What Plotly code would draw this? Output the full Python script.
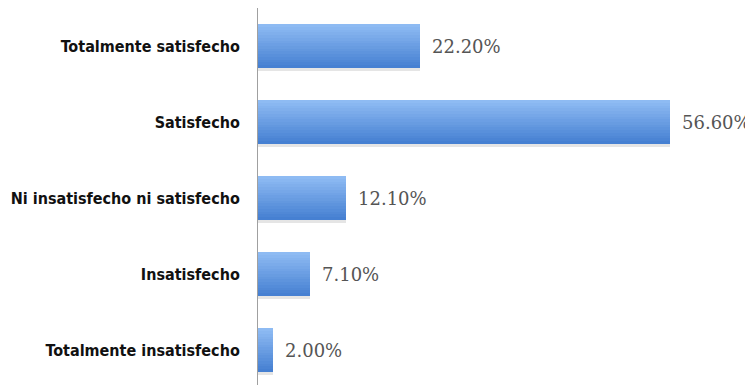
import plotly.graph_objects as go

categories = ["Totalmente satisfecho", "Satisfecho", "Ni insatisfecho ni satisfecho",
              "Insatisfecho", "Totalmente insatisfecho"]
values = [22.2, 56.6, 12.1, 7.1, 2.0]
value_labels = ["22.20%", "56.60%", "12.10%", "7.10%", "2.00%"]

BAR_W = 0.57
top_rgb = (0x8e, 0xbb, 0xf3)
bot_rgb = (0x46, 0x80, 0xd2)
N_BANDS = 16

fig = go.Figure()
# soft shadow
fig.add_trace(go.Bar(
    y=categories, x=values, orientation="h", width=BAR_W,
    offset=-BAR_W / 2 + 0.045,
    marker=dict(color="rgba(0,0,0,0.10)", line=dict(width=0)),
    hoverinfo="skip",
))
fig.add_trace(go.Bar(
    y=categories, x=values, orientation="h", width=BAR_W,
    marker=dict(color="#5b91dc", line=dict(width=0)),
    hoverinfo="skip",
))
bw = BAR_W / N_BANDS
for i in range(N_BANDS):
    t = i / (N_BANDS - 1)
    c = "rgb(%d,%d,%d)" % tuple(round(a + (b - a) * t) for a, b in zip(top_rgb, bot_rgb))
    fig.add_trace(go.Bar(
        y=categories, x=values, orientation="h", width=bw * 1.05,
        offset=-BAR_W / 2 + i * bw,
        marker=dict(color=c, line=dict(width=0)),
        hoverinfo="skip",
    ))

for cat, v, lab in zip(categories, values, value_labels):
    fig.add_annotation(
        x=v, y=cat, text=lab, showarrow=False, xanchor="left", yanchor="middle",
        xshift=10, font=dict(family="DejaVu Serif", size=18, color="#555555"),
    )

# page body has an 8px default margin; figure is sized/offset to compensate
fig.update_layout(
    width=745, height=377,
    margin=dict(l=250, r=14, t=0, b=0),
    paper_bgcolor="white", plot_bgcolor="white",
    barmode="overlay", bargap=0, showlegend=False,
    xaxis=dict(range=[0, 66.1], visible=False),
    yaxis=dict(
        type="category", range=[4.46, -0.5], automargin=False,
        showline=True, linecolor="#a0a0a0", linewidth=1,
        showgrid=False, ticks="", ticklabelstandoff=14,
        tickfont=dict(family="DejaVu Sans Condensed", size=16, color="#111111", weight="bold"),
    ),
)

fig.write_html("out.html")
